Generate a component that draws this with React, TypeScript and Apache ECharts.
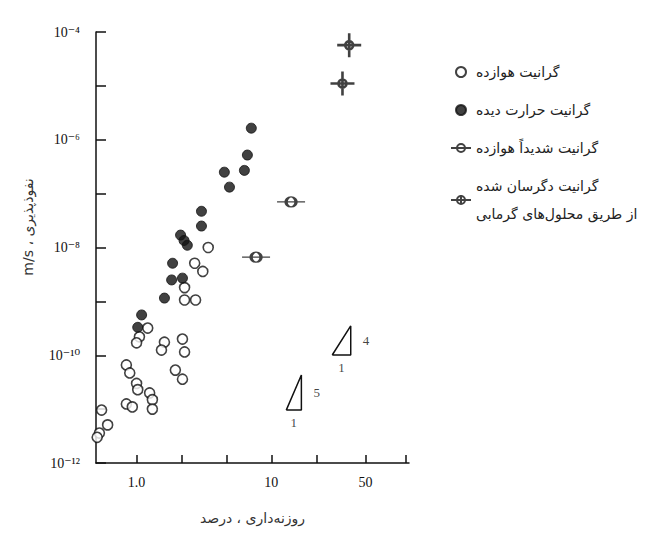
import React, { useEffect, useRef } from "react";
import * as echarts from "echarts";

// ---- data (porosity %, permeability m/s) ----
const seriesNames = [
  "گرانیت هوازده",
  "گرانیت حرارت دیده",
  "گرانیت شدیداً هوازده",
  "گرانیت دگرسان شده\nاز طریق محلول‌های گرمابی",
];

const weatheredGranite: [number, number][] = [
  [3.4, 1.0e-8], [2.7, 5.1e-9], [3.1, 3.6e-9], [2.27, 1.8e-9], [2.27, 1.06e-9],
  [2.74, 1.06e-9], [1.21, 3.2e-10], [1.05, 2.2e-10], [1.0, 1.7e-10], [1.61, 1.75e-10],
  [1.53, 1.25e-10], [2.19, 2.0e-10], [2.27, 1.15e-10], [1.94, 5.3e-11], [2.19, 3.6e-11],
  [0.84, 6.6e-11], [0.89, 4.7e-11], [1.0, 3.0e-11], [1.02, 2.3e-11], [1.25, 2.0e-11],
  [1.31, 1.5e-11], [1.31, 1.0e-11], [0.84, 1.25e-11], [0.93, 1.1e-11], [0.55, 9.6e-12],
  [0.61, 5.1e-12], [0.53, 3.6e-12], [0.51, 3.0e-12],
];

const heatTreatedGranite: [number, number][] = [
  [7.1, 1.64e-6], [6.64, 5.2e-7], [6.31, 2.7e-7], [4.48, 2.5e-7], [4.89, 1.32e-7],
  [3.03, 4.7e-8], [3.03, 2.5e-8], [2.12, 1.7e-8], [2.25, 1.35e-8], [2.38, 1.1e-8],
  [1.85, 5.1e-9], [1.82, 2.5e-9], [2.19, 2.7e-9], [1.61, 1.15e-9], [1.09, 5.6e-10],
  [1.02, 3.3e-10],
];

const highlyWeatheredGranite: [number, number][] = [
  [14.0, 7.0e-8], [7.7, 6.6e-9],
];

const alteredGranite: [number, number][] = [
  [37.8, 5.7e-5], [33.7, 1.11e-5],
];

const slopeTriangle4: [number, number][] = [[28.3, 1.01e-10], [38.8, 1.01e-10], [38.8, 3.5e-10]];
const slopeTriangle5: [number, number][] = [[12.9, 9.6e-12], [16.7, 9.6e-12], [16.7, 4.3e-11]];
const slopeValues = ["4", "5"];

const xTickValues = [1, 2.154, 4.642, 10, 21.54, 50, 100];
const xLabelValues = [1, 10, 50];
const xLabelTexts = ["1.0", "10", "50"];
const yLabelExponents = [-12, -10, -8, -6, -4];

const yAxisTitle = "m/s ، نفوذپذیری";
const xAxisTitle = "روزنه‌داری ، درصد";

// ---- helpers ----
const lg = (p: [number, number]) => [Math.log10(p[0]), Math.log10(p[1])];
const SUP: Record<string, string> = {
  "-": "⁻", "0": "⁰", "1": "¹", "2": "²", "3": "³", "4": "⁴",
  "5": "⁵", "6": "⁶", "7": "⁷", "8": "⁸", "9": "⁹",
};
const sup = (n: number) => String(n).split("").map((c) => SUP[c] || c).join("");

const INK = "#111";
const SERIF = "'Liberation Serif', 'DejaVu Serif', serif";
const PERSIAN = "'DejaVu Sans', sans-serif";

const barPath = "path://M0,5 L28,5 M9,5 A5,5 0 1,1 19,5 A5,5 0 1,1 9,5 Z";
const crossPath = "path://M0,12 L24,12 M12,0 L12,24 M8,12 A4,4 0 1,1 16,12 A4,4 0 1,1 8,12 Z";
const barIcon = "path://M0,5 L20,5 M6,5 A4,4 0 1,1 14,5 A4,4 0 1,1 6,5 Z";
const crossIcon = "path://M0,5 L20,5 M10,0 L10,10 M6,5 A4,4 0 1,1 14,5 A4,4 0 1,1 6,5 Z";

export default function App() {
  const ref = useRef<HTMLDivElement>(null);

  useEffect(() => {
    if (!ref.current) return;
    const chart = echarts.init(ref.current, null, { renderer: "svg" });

    const triangles = [slopeTriangle4, slopeTriangle5];
    const triangleSeries = triangles.map((t) => ({
      type: "line",
      data: [...t, t[0]].map(lg),
      symbol: "none",
      silent: true,
      lineStyle: { color: INK, width: 1.5 },
      z: 1,
    }));
    const slopeMarks = triangles.map((t, i) => ({
      value: [Math.log10(t[1][0]), (Math.log10(t[1][1]) + Math.log10(t[2][1])) / 2],
      label: { formatter: slopeValues[i] },
    }));
    const unitMarks = triangles.map((t) => ({
      value: [(Math.log10(t[0][0]) + Math.log10(t[1][0])) / 2, Math.log10(t[0][1])],
    }));

    const option: any = {
      animation: false,
      backgroundColor: "#fff",
      grid: { left: 96, top: 32, width: 313, height: 431 },
      xAxis: {
        type: "value",
        min: Math.log10(0.5),
        max: Math.log10(105),
        axisLine: { onZero: false, lineStyle: { color: INK, width: 1.5 } },
        axisTick: {
          inside: true,
          length: 8,
          customValues: xTickValues.map(Math.log10),
          lineStyle: { color: INK, width: 1.5 },
        },
        axisLabel: {
          customValues: xLabelValues.map(Math.log10),
          formatter: (v: number) => {
            const i = xLabelValues.findIndex((x) => Math.abs(Math.log10(x) - v) < 1e-6);
            return i >= 0 ? xLabelTexts[i] : "";
          },
          color: INK,
          fontSize: 14,
          fontFamily: SERIF,
          margin: 12,
        },
        splitLine: { show: false },
        name: xAxisTitle,
        nameLocation: "middle",
        nameGap: 48,
        nameTextStyle: { color: "#333", fontSize: 14, fontFamily: PERSIAN },
      },
      yAxis: {
        type: "value",
        min: -12,
        max: -4,
        interval: 1,
        axisLine: { onZero: false, lineStyle: { color: INK, width: 1.5 } },
        axisTick: { inside: true, length: 10, lineStyle: { color: INK, width: 1.5 } },
        axisLabel: {
          formatter: (v: number) =>
            yLabelExponents.includes(Math.round(v)) ? "10" + sup(Math.round(v)) : "",
          color: INK,
          fontSize: 14,
          fontFamily: SERIF,
          margin: 16,
        },
        splitLine: { show: false },
      },
      legend: {
        data: [
          { name: seriesNames[0], icon: "circle" },
          { name: seriesNames[1], icon: "circle" },
          { name: seriesNames[2], icon: barIcon },
          { name: seriesNames[3], icon: crossIcon },
        ],
        orient: "vertical",
        left: 445,
        top: 53,
        itemWidth: 20,
        itemHeight: 10,
        itemGap: 10,
        selectedMode: false,
        textStyle: { color: "#222", fontSize: 14, lineHeight: 28, fontFamily: PERSIAN },
      },
      graphic: [
        {
          type: "text",
          x: 28,
          y: 227,
          rotation: Math.PI / 2,
          style: {
            text: yAxisTitle,
            fill: "#333",
            fontSize: 14,
            fontFamily: PERSIAN,
            align: "center",
            verticalAlign: "middle",
          },
        },
      ],
      series: [
        {
          name: seriesNames[0],
          type: "scatter",
          data: weatheredGranite.map(lg),
          symbol: "circle",
          symbolSize: 10,
          itemStyle: { color: "#fff", borderColor: INK, borderWidth: 1.6 },
          z: 3,
        },
        {
          name: seriesNames[1],
          type: "scatter",
          data: heatTreatedGranite.map(lg),
          symbol: "circle",
          symbolSize: 10,
          itemStyle: { color: INK, borderColor: INK, borderWidth: 1 },
          z: 4,
        },
        {
          name: seriesNames[2],
          type: "scatter",
          data: highlyWeatheredGranite.map(lg),
          symbol: barPath,
          symbolSize: [28, 10],
          itemStyle: { color: "#fff", borderColor: INK, borderWidth: 2 },
          z: 4,
        },
        {
          name: seriesNames[3],
          type: "scatter",
          data: alteredGranite.map(lg),
          symbol: crossPath,
          symbolSize: [24, 24],
          itemStyle: { color: "#fff", borderColor: INK, borderWidth: 2.6 },
          z: 4,
        },
        ...triangleSeries,
        {
          type: "scatter",
          data: slopeMarks,
          symbolSize: 0,
          silent: true,
          itemStyle: { color: INK },
          label: {
            show: true,
            position: "right",
            distance: 12,
            color: INK,
            fontSize: 13,
            fontFamily: SERIF,
          },
        },
        {
          type: "scatter",
          data: unitMarks,
          symbolSize: 0,
          silent: true,
          itemStyle: { color: INK },
          label: {
            show: true,
            formatter: "1",
            position: "bottom",
            distance: 6,
            color: INK,
            fontSize: 13,
            fontFamily: SERIF,
          },
        },
      ],
    };

    chart.setOption(option);
    return () => chart.dispose();
  }, []);

  return (
    <div
      ref={ref}
      style={{ position: "fixed", left: 0, top: 0, width: 660, height: 536, background: "#fff" }}
    />
  );
}
